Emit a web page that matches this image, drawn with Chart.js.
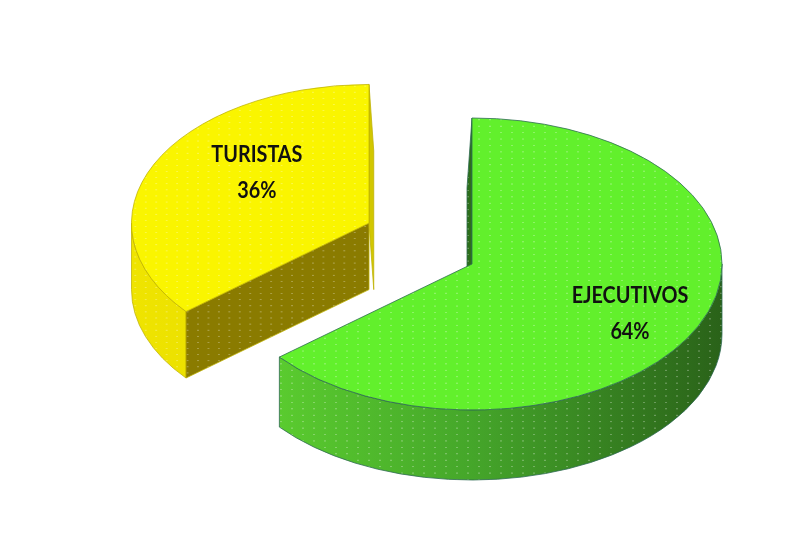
<!DOCTYPE html>
<html>
<head>
<meta charset="utf-8">
<script src="https://cdn.jsdelivr.net/npm/chart.js@4.4.0/dist/chart.umd.min.js"></script>
<style>
  html, body { margin: 0; padding: 0; background: #ffffff; }
  #wrap { width: 811px; height: 550px; }
</style>
</head>
<body>
<div id="wrap"><canvas id="c" width="811" height="550"></canvas></div>
<script>
// Passenger mix
const categories = ['EJECUTIVOS', 'TURISTAS'];
const shares = [64, 36];

// Slice colours: top face, curved wall, flat cut face, edge-on cut face, outline
const topColors = ['#62F02C', '#FAF500'];
const wallColors = [['#60D630', '#45A62A', '#2A6219'], ['#EFE400', '#D9CE00']];
const faceColors = ['#2F7A1E', '#8A7B00'];
const sliverColors = ['#2C6E1B', '#D2C700'];
const edgeColors = ['#2E6B52', '#BDB000'];

// Light dotted texture laid over a base colour
function dotted(base) {
  const t = document.createElement('canvas');
  t.width = 11; t.height = 11;
  const g = t.getContext('2d');
  if (base) { g.fillStyle = base; g.fillRect(0, 0, 11, 11); }
  g.fillStyle = 'rgba(255,255,255,0.28)';
  g.fillRect(5, 5, 2, 2);
  return g.createPattern(t, 'repeat');
}

// Tilted, extruded pie: every slice is drawn by Chart.js inside a flattened view,
// with its side walls built from the same arc geometry.
const pie3d = {
  id: 'pie3d',
  beforeDatasetsDraw(chart, args, o) {
    const ctx = chart.ctx;
    const arcs = chart.getDatasetMeta(0).data;
    const cy = arcs[0].y;
    const d = o.depth / o.k;
    const view = (i) => {
      const a = arcs[i], p = o.scale[i];
      ctx.translate(0, o.centerY - cy * o.k);
      ctx.scale(1, o.k);
      ctx.translate(o.explode[i][0], o.explode[i][1]);
      // slices further back look a little smaller
      ctx.translate(a.x, a.y);
      ctx.scale(p, p);
      ctx.translate(-a.x, -a.y);
    };
    const dots = dotted(null);
    const paint = (fill, edge) => {
      ctx.fillStyle = fill; ctx.fill();
      ctx.fillStyle = dots; ctx.fill();
      ctx.lineWidth = 1; ctx.strokeStyle = edge; ctx.stroke();
    };

    arcs.forEach((a, i) => {
      const { x, y, startAngle: s, endAngle: e, outerRadius: R } = a;
      ctx.save();
      view(i);
      // curved outer wall, front-facing part only
      for (let n = -1; n <= 1; n++) {
        const lo = Math.max(s, 2 * Math.PI * n);
        const hi = Math.min(e, 2 * Math.PI * n + Math.PI);
        if (hi <= lo) continue;
        ctx.beginPath();
        ctx.arc(x, y, R, lo, hi);
        ctx.arc(x, y + d, R, hi, lo, true);
        ctx.closePath();
        const cols = wallColors[i];
        const gr = ctx.createLinearGradient(x - R, 0, x + R, 0);
        cols.forEach((c, j) => gr.addColorStop(j / (cols.length - 1), c));
        paint(gr, edgeColors[i]);
      }
      // flat cut faces: [angle, facing toward viewer, outward normal x]
      const vx = x + o.explode[i][0];
      [[s, Math.cos(s) < 0, Math.sin(s)], [e, Math.cos(e) > 0, -Math.sin(e)]].forEach(([ang, front, nx]) => {
        const px = x + Math.cos(ang) * R, py = y + Math.sin(ang) * R;
        const edgeOn = Math.abs(Math.cos(ang)) < 1e-6;
        if (!front && !edgeOn) return;
        // an edge-on face still shows a thin strip on the side facing the eye
        let shift = 0, col = faceColors[i];
        if (edgeOn) {
          const side = Math.sign(o.eyeX - vx);
          if (side === 0 || Math.sign(nx) !== side) return;
          shift = side * o.sliver;
          col = sliverColors[i];
        }
        ctx.beginPath();
        ctx.moveTo(x, y);
        ctx.lineTo(px, py);
        ctx.lineTo(px + shift, py + d);
        ctx.lineTo(x + shift, y + d);
        ctx.closePath();
        paint(col, edgeColors[i]);
      });
      ctx.restore();
    });

    // top faces
    arcs.forEach((a, i) => {
      ctx.save();
      view(i);
      a.draw(ctx, chart.chartArea);
      ctx.restore();
    });
    return false;
  },
  afterDraw(chart, args, o) {
    const ctx = chart.ctx;
    const arcs = chart.getDatasetMeta(0).data;
    const cy = arcs[0].y;
    const values = chart.data.datasets[0].data;
    ctx.save();
    ctx.font = o.font;
    ctx.fillStyle = '#111111';
    ctx.textAlign = 'center';
    ctx.textBaseline = 'middle';
    arcs.forEach((a, i) => {
      const { x, y, startAngle: s, endAngle: e, outerRadius: R } = a;
      const th = s + o.labelAt[i].t * (e - s);
      const r = o.labelAt[i].r * R * o.scale[i];
      const px = x + o.explode[i][0] + Math.cos(th) * r;
      const py = y + o.explode[i][1] + Math.sin(th) * r;
      const sx = px, sy = o.centerY + (py - cy) * o.k;
      [[chart.data.labels[i], -1], [values[i] + '%', 1]].forEach(([txt, dir]) => {
        ctx.save();
        ctx.translate(sx, sy + dir * o.lineGap / 2);
        ctx.scale(o.textNarrow, 1);
        ctx.fillText(txt, 0, 0);
        ctx.restore();
      });
    });
    ctx.restore();
  }
};

new Chart(document.getElementById('c'), {
  type: 'pie',
  data: {
    labels: categories,
    datasets: [{
      data: shares,
      backgroundColor: topColors.map(c => dotted(c)),
      borderColor: edgeColors,
      borderWidth: 1
    }]
  },
  options: {
    responsive: false,
    animation: false,
    events: [],
    radius: 250,
    layout: { padding: { left: 133, right: 0, top: 0, bottom: 0 } },
    plugins: {
      legend: { display: false },
      tooltip: { enabled: false },
      pie3d: {
        k: 0.584,
        centerY: 264,
        depth: 70,
        explode: [[0, 0], [-103, -70]],
        scale: [1, 0.95],
        eyeX: 405,
        sliver: 5,
        labelAt: [{ t: 0.513, r: 0.717 }, { t: 0.596, r: 0.596 }],
        font: 'bold 22px Lato, sans-serif',
        textNarrow: 0.9,
        lineGap: 36
      }
    }
  },
  plugins: [pie3d]
});
</script>
</body>
</html>
